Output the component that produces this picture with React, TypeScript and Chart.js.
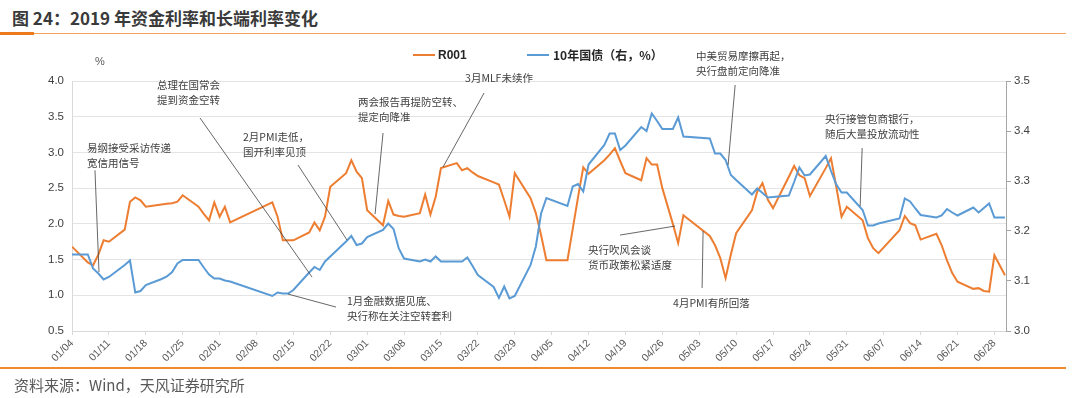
import React, { useEffect, useRef } from 'react';
import { Chart, registerables } from 'chart.js';

Chart.register(...registerables);

// ---------- data ----------
const tradeDates = [
  '01/04', '01/07', '01/08', '01/09', '01/10', '01/11', '01/14', '01/15', '01/16', '01/17', '01/18',
  '01/21', '01/22', '01/23', '01/24', '01/25', '01/28', '01/29', '01/30', '01/31', '02/01', '02/02', '02/03',
  '02/11', '02/12', '02/13', '02/14', '02/15', '02/18', '02/19', '02/20', '02/21', '02/22',
  '02/25', '02/26', '02/27', '02/28', '03/01', '03/04', '03/05', '03/06', '03/07', '03/08',
  '03/11', '03/12', '03/13', '03/14', '03/15', '03/18', '03/19', '03/20', '03/21', '03/22',
  '03/25', '03/26', '03/27', '03/28', '03/29', '04/01', '04/02', '04/03', '04/04',
  '04/08', '04/09', '04/10', '04/11', '04/12', '04/15', '04/16', '04/17', '04/18', '04/19',
  '04/22', '04/23', '04/24', '04/25', '04/26', '04/28', '04/29', '04/30',
  '05/05', '05/06', '05/07', '05/08', '05/09', '05/10', '05/13', '05/14', '05/15', '05/16', '05/17',
  '05/20', '05/21', '05/22', '05/23', '05/24', '05/27', '05/28', '05/29', '05/30', '05/31',
  '06/03', '06/04', '06/05', '06/06', '06/10', '06/11', '06/12', '06/13', '06/14',
  '06/17', '06/18', '06/19', '06/20', '06/21', '06/24', '06/25', '06/26', '06/27', '06/28', '06/30',
];

const r001 = [
  1.68, 1.46, 1.42, 1.57, 1.77, 1.75, 1.92, 2.31, 2.37, 2.33, 2.24,
  2.27, 2.28, 2.29, 2.31, 2.40, 2.24, 2.14, 2.05, 2.30, 2.10, 2.24, 2.02,
  2.30, 2.10, 1.77, 1.77, 1.77, 1.88, 2.02, 1.91, 2.10, 2.52,
  2.71, 2.89, 2.73, 2.64, 2.19, 1.98, 2.32, 2.13, 2.11, 2.10,
  2.15, 2.41, 2.13, 2.38, 2.78, 2.85, 2.75, 2.78, 2.72, 2.67,
  2.58, 2.55, 2.33, 2.10, 2.71, 2.36, 2.15, 1.84, 1.49,
  1.49, 1.93, 2.37, 2.79, 2.70, 2.89, 2.97, 3.06, 2.88, 2.71,
  2.61, 2.92, 2.83, 2.83, 2.50, 2.00, 1.73, 2.12,
  1.83, 1.70, 1.52, 1.24, 1.57, 1.87, 2.19, 2.45, 2.57, 2.34, 2.22,
  2.66, 2.81, 2.68, 2.64, 2.39, 2.78, 2.92, 2.52, 2.10, 2.24,
  2.05, 1.80, 1.66, 1.59, 1.91, 2.11, 2.01, 1.98, 1.78,
  1.86, 1.70, 1.49, 1.31, 1.19, 1.09, 1.10, 1.06, 1.05, 1.56, 1.28,
];

const cgb10y = [
  3.153, 3.153, 3.125, 3.115, 3.103, 3.108, 3.132, 3.141, 3.077, 3.080, 3.092,
  3.104, 3.109, 3.118, 3.135, 3.142, 3.142, 3.127, 3.113, 3.105, 3.105, 3.101, 3.099,
  3.070, 3.077, 3.075, 3.075, 3.082, 3.117, 3.128, 3.122, 3.139, 3.149,
  3.179, 3.190, 3.172, 3.175, 3.188, 3.202, 3.215, 3.204, 3.165, 3.145,
  3.139, 3.143, 3.139, 3.149, 3.139, 3.139, 3.139, 3.147, 3.130, 3.112,
  3.088, 3.066, 3.089, 3.065, 3.070, 3.132, 3.169, 3.235, 3.266,
  3.250, 3.289, 3.294, 3.279, 3.333, 3.372, 3.395, 3.395, 3.362, 3.371,
  3.408, 3.400, 3.435, 3.420, 3.404, 3.404, 3.427, 3.389,
  3.385, 3.355, 3.355, 3.342, 3.312, 3.302, 3.273, 3.285, 3.276, 3.267, 3.268,
  3.271, 3.298, 3.327, 3.311, 3.313, 3.350, 3.320, 3.293, 3.277, 3.277,
  3.242, 3.211, 3.211, 3.215, 3.225, 3.265, 3.259, 3.245, 3.232,
  3.227, 3.231, 3.244, 3.237, 3.231, 3.247, 3.237, 3.246, 3.255, 3.227, 3.227,
];

const xTickLabels = [
  '01/04', '01/11', '01/18', '01/25', '02/01', '02/08', '02/15', '02/22', '03/01', '03/08', '03/15', '03/22', '03/29',
  '04/05', '04/12', '04/19', '04/26', '05/03', '05/10', '05/17', '05/24', '05/31', '06/07', '06/14', '06/21', '06/28',
];
const leftTicks = [0.5, 1.0, 1.5, 2.0, 2.5, 3.0, 3.5, 4.0];
const rightTicks = [3.0, 3.1, 3.2, 3.3, 3.4, 3.5];

const seriesNames = ['R001', '10年国债（右，%）'];

// annotations: text anchor and leader line in (day offset, left-axis value)
const notes = [
  { lines: ['易纲接受采访传递', '宽信用信号'], at: [2.85, 3.06], from: [4.36, 2.75], to: [5.12, 1.325] },
  { lines: ['总理在国常会', '提到资金空转'], at: [16.13, 3.944], from: [24.29, 3.482], to: [45.54, 1.255] },
  { lines: ['2月PMI走低，', '国开利率见顶'], at: [32.45, 3.216], from: [42.88, 2.824], to: [52.18, 1.773] },
  { lines: ['两会报告再提防空转、', '提定向降准'], at: [54.27, 3.706], from: [59.01, 3.272], to: [57.5, 2.137] },
  { lines: ['3月MLF未续作'], at: [74.57, 4.042], from: [78.18, 3.832], to: [70.4, 2.796] },
  { lines: ['中美贸易摩擦再起，', '央行盘前定向降准'], at: [118.41, 4.35], from: [125.81, 3.944], to: [124.48, 2.824] },
  { lines: ['央行接管包商银行，', '随后大量投放流动性'], at: [142.88, 3.468], from: [149.91, 3.062], to: [149.53, 2.249] },
  { lines: ['央行吹风会谈', '货币政策松紧适度'], at: [97.91, 1.633], from: [103.98, 1.843], to: [114.42, 1.969] },
  { lines: ['4月PMI有所回落'], at: [114.04, 0.891], from: [119.54, 1.101], to: [119.73, 1.899] },
  { lines: ['1月金融数据见底、', '央行称在关注空转套利'], at: [52.18, 0.919], from: [50.09, 0.835], to: [40.99, 1.017] },
];

// ---------- helpers ----------
const ORANGE = '#ED7D31';
const BLUE = '#5B9BD5';
const LATIN = '"Liberation Sans", Arial, "Noto Sans CJK SC", sans-serif';
const CJK = '"Noto Sans CJK SC", "Liberation Sans", sans-serif';

const dayOf = (md: string) => {
  const [m, d] = md.split('/').map(Number);
  return (Date.UTC(2019, m - 1, d) - Date.UTC(2019, 0, 4)) / 86400000;
};
const X_MAX = 177.2;

const notesPlugin = {
  id: 'notes',
  afterDatasetsDraw(chart: any) {
    const { ctx, scales } = chart;
    const xs = scales.x;
    const ys = scales.y;
    ctx.save();
    ctx.strokeStyle = '#404040';
    ctx.lineWidth = 0.8;
    ctx.fillStyle = '#404040';
    ctx.font = `10.5px ${CJK}`;
    ctx.textAlign = 'left';
    ctx.textBaseline = 'middle';
    for (const n of notes) {
      ctx.beginPath();
      ctx.moveTo(xs.getPixelForValue(n.from[0]), ys.getPixelForValue(n.from[1]));
      ctx.lineTo(xs.getPixelForValue(n.to[0]), ys.getPixelForValue(n.to[1]));
      ctx.stroke();
      const tx = xs.getPixelForValue(n.at[0]);
      const ty = ys.getPixelForValue(n.at[1]);
      n.lines.forEach((line, i) => ctx.fillText(line, tx, ty + i * 15));
    }
    ctx.restore();
  },
};

export default function App() {
  const ref = useRef<HTMLCanvasElement>(null);

  useEffect(() => {
    const canvas = ref.current;
    if (!canvas) return;
    const xs = tradeDates.map(dayOf);
    const chart = new Chart(canvas, {
      type: 'line',
      data: {
        datasets: [
          {
            label: seriesNames[0],
            data: xs.map((x, i) => ({ x, y: r001[i] })),
            yAxisID: 'y',
            borderColor: ORANGE,
            backgroundColor: ORANGE,
            borderWidth: 2,
            pointRadius: 0,
            tension: 0,
            fill: false,
            order: 2,
          },
          {
            label: seriesNames[1],
            data: xs.map((x, i) => ({ x, y: cgb10y[i] })),
            yAxisID: 'y1',
            borderColor: BLUE,
            backgroundColor: BLUE,
            borderWidth: 2,
            pointRadius: 0,
            tension: 0,
            fill: false,
            order: 1,
          },
        ],
      },
      options: {
        animation: false,
        responsive: false,
        maintainAspectRatio: false,
        layout: { padding: { top: 81, left: 0, right: 0, bottom: 0 } },
        plugins: { legend: { display: false }, tooltip: { enabled: false } },
        scales: {
          x: {
            type: 'linear',
            min: 0,
            max: X_MAX,
            afterBuildTicks: (s: any) => {
              s.ticks = xTickLabels.map((d) => ({ value: dayOf(d) }));
            },
            afterFit: (s: any) => {
              s.height = 67;
            },
            ticks: {
              autoSkip: false,
              maxRotation: 45,
              minRotation: 45,
              padding: 2,
              color: '#595959',
              font: { size: 10.5, family: LATIN },
              callback: (v: any) => {
                const i = xTickLabels.findIndex((d) => dayOf(d) === v);
                return i >= 0 ? xTickLabels[i] : '';
              },
            },
            grid: { drawOnChartArea: false, drawTicks: true, tickLength: 4, color: '#d9d9d9' },
            border: { color: '#d9d9d9' },
          },
          y: {
            position: 'left',
            min: 0.5,
            max: 4.0,
            afterBuildTicks: (s: any) => {
              s.ticks = leftTicks.map((v) => ({ value: v }));
            },
            afterFit: (s: any) => {
              s.width = 72;
            },
            ticks: {
              padding: 8,
              color: '#404040',
              font: { size: 11.5, family: LATIN },
              callback: (v: any) => Number(v).toFixed(1),
            },
            grid: { color: '#e4e4e4', drawTicks: false },
            border: { color: '#d9d9d9' },
          },
          y1: {
            position: 'right',
            min: 3.0,
            max: 3.5,
            afterBuildTicks: (s: any) => {
              s.ticks = rightTicks.map((v) => ({ value: v }));
            },
            afterFit: (s: any) => {
              s.width = 74;
            },
            ticks: {
              padding: 3,
              color: '#404040',
              font: { size: 11.5, family: LATIN },
              callback: (v: any) => Number(v).toFixed(1),
            },
            grid: { drawOnChartArea: false, drawTicks: true, tickLength: 5, color: '#a6a6a6' },
            border: { color: '#a6a6a6' },
          },
        },
      } as any,
      plugins: [notesPlugin],
    });
    return () => chart.destroy();
  }, []);

  const abs = (s: React.CSSProperties): React.CSSProperties => ({ position: 'absolute', whiteSpace: 'nowrap', ...s });

  return (
    <div style={{ position: 'absolute', left: 0, top: 0, width: 1080, height: 398, background: '#fff', overflow: 'hidden' }}>
      <div style={abs({ left: 12, top: 6, fontSize: 17, lineHeight: '24px', fontWeight: 'bold', color: '#3a3a3a', fontFamily: CJK })}>
        图 24：2019 年资金利率和长端利率变化
      </div>
      <div style={abs({ left: 0, top: 33, width: 1066, height: 1, background: '#f4a15a' })} />
      <div style={abs({ left: 0, top: 32, width: 34, height: 3, background: '#ec7a1c' })} />

      <canvas ref={ref} width={1080} height={398} style={{ position: 'absolute', left: 0, top: 0 }} />

      <div style={abs({ left: 95, top: 53, fontSize: 11, lineHeight: '16px', color: '#595959', fontFamily: LATIN })}>%</div>

      <div style={abs({ left: 413, top: 54, width: 22, height: 2, background: ORANGE })} />
      <div style={abs({ left: 438, top: 47, fontSize: 12, lineHeight: '16px', fontWeight: 'bold', color: '#262626', fontFamily: LATIN })}>
        {seriesNames[0]}
      </div>
      <div style={abs({ left: 527, top: 54, width: 22, height: 2, background: BLUE })} />
      <div style={abs({ left: 553, top: 47, fontSize: 12, lineHeight: '16px', fontWeight: 'bold', color: '#262626', fontFamily: CJK })}>
        {seriesNames[1]}
      </div>

      <div style={abs({ left: 0, top: 367, width: 1066, height: 2, background: '#f08a2c' })} />
      <div style={abs({ left: 14, top: 375, fontSize: 15, lineHeight: '20px', color: '#595959', fontFamily: CJK })}>
        资料来源：Wind，天风证券研究所
      </div>
    </div>
  );
}
